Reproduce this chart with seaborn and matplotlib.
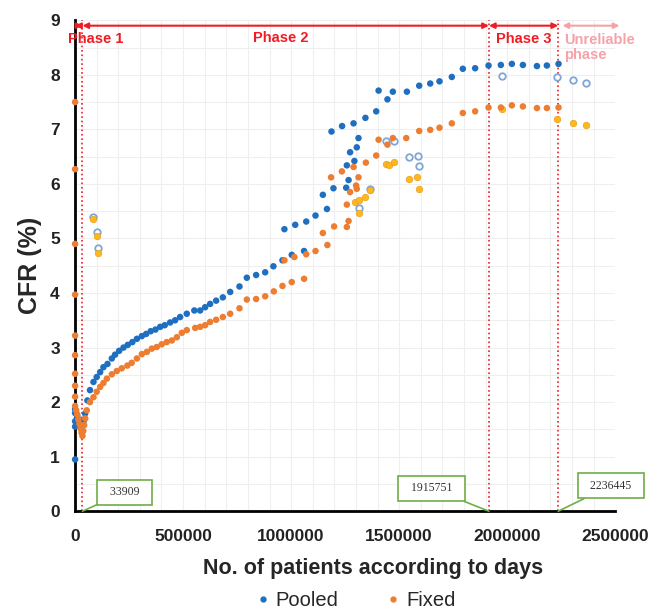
import numpy as np
import pandas as pd
import seaborn as sns
from matplotlib import pyplot as plt
from matplotlib.lines import Line2D
from matplotlib.ticker import MultipleLocator

# values
pooled_x = [0, 0, 0, 0, 0, 5000, 10000, 15000, 20000, 25000, 30000, 35000, 40000,
            46300, 57000, 69000, 85000, 100000, 116000, 131000, 150000, 170000,
            185000, 204000, 224000, 244000, 265000, 286000, 309000, 329000, 350000,
            372000, 394000, 415000, 440000, 463000, 486000, 517000, 552000, 579000,
            602000, 625000, 653000, 684000, 718000, 761000, 795000, 838000, 880000,
            918000, 960000, 1003000, 1060000, 969000, 1019000, 1070000, 1113000,
            1147000, 1166000, 1196000, 1187000, 1236000, 1255000, 1258000, 1266000,
            1273000, 1289000, 1293000, 1304000, 1312000, 1344000, 1394000, 1405000,
            1446000, 1471000, 1536000, 1593000, 1644000, 1687000, 1744000, 1795000,
            1852000, 1914000, 1971000, 2022000, 2073000, 2138000, 2184000, 2238000]
pooled_y = [0.95, 1.55, 1.65, 1.80, 1.87, 1.80, 1.74, 1.68, 1.62, 1.56, 1.50, 1.56, 1.66,
            1.79, 2.03, 2.22, 2.37, 2.46, 2.55, 2.64, 2.70, 2.80,
            2.87, 2.94, 3.00, 3.05, 3.10, 3.16, 3.21, 3.25, 3.30,
            3.33, 3.38, 3.41, 3.46, 3.50, 3.56, 3.62, 3.68, 3.68,
            3.74, 3.80, 3.86, 3.92, 4.02, 4.12, 4.28, 4.33, 4.38,
            4.49, 4.60, 4.70, 4.77, 5.17, 5.25, 5.31, 5.42,
            5.80, 5.54, 5.92, 6.96, 7.06, 5.93, 6.34, 6.07,
            6.58, 7.11, 6.42, 6.67, 6.84, 7.21, 7.33, 7.71,
            7.55, 7.69, 7.69, 7.80, 7.84, 7.88, 7.96, 8.11,
            8.12, 8.17, 8.18, 8.20, 8.18, 8.16, 8.17, 8.20]

fixed_x = [0, 0, 0, 0, 0, 0, 0, 0, 0, 0, 5000, 10000, 15000, 20000, 25000, 30000,
           34000, 38000, 42000, 47000, 54000, 69000, 85000, 100000, 116000, 131000,
           147000, 170000, 193000, 216000, 242000, 262000, 286000, 309000, 332000,
           355000, 378000, 401000, 424000, 448000, 471000, 494000, 517000, 556000,
           579000, 602000, 625000, 653000, 684000, 718000, 761000, 795000, 838000,
           880000, 920000, 960000, 1003000, 1060000, 969000, 1015000, 1070000,
           1113000, 1147000, 1168000, 1185000, 1199000, 1235000, 1258000, 1258000,
           1266000, 1273000, 1289000, 1301000, 1304000, 1312000, 1346000, 1394000,
           1405000, 1446000, 1471000, 1533000, 1593000, 1644000, 1687000, 1744000,
           1795000, 1852000, 1914000, 1971000, 2022000, 2073000, 2138000, 2184000, 2238000]
fixed_y = [7.50, 6.27, 4.90, 3.97, 3.22, 2.86, 2.52, 2.30, 2.10, 1.93, 1.85, 1.77, 1.68,
           1.60, 1.52, 1.44, 1.38, 1.47, 1.58, 1.70, 1.85, 2.00, 2.09, 2.19, 2.28, 2.35,
           2.43, 2.51, 2.57, 2.62, 2.67, 2.72, 2.80, 2.88, 2.92,
           2.98, 3.01, 3.06, 3.10, 3.13, 3.19, 3.27, 3.32, 3.36,
           3.38, 3.41, 3.47, 3.51, 3.56, 3.62, 3.72, 3.88, 3.89,
           3.94, 4.03, 4.13, 4.20, 4.26, 4.60, 4.66, 4.71,
           4.77, 5.10, 4.88, 6.12, 5.22, 6.23, 5.21, 5.62,
           5.32, 5.85, 6.31, 5.97, 5.91, 6.12, 6.39, 6.52,
           6.81, 6.72, 6.84, 6.84, 6.97, 6.99, 7.03, 7.11,
           7.30, 7.33, 7.40, 7.40, 7.44, 7.42, 7.39, 7.39, 7.40]

# hollow (excluded) pooled points and their fixed counterparts
open_x = [82000, 100000, 108000, 1312000, 1366000, 1440000, 1477000, 1548000,
          1587000, 1591000, 1975000, 2230000, 2304000, 2364000]
open_y = [5.40, 5.12, 4.82, 5.55, 5.91, 6.78, 6.78, 6.50, 6.52, 6.32, 7.98, 7.96, 7.90, 7.85]
yellow_x = [82000, 100000, 108000, 1296000, 1312000, 1316000, 1340000, 1366000, 1440000,
            1454000, 1477000, 1548000, 1582000, 1591000, 1975000, 2230000, 2304000, 2364000]
yellow_y = [5.36, 5.05, 4.74, 5.67, 5.46, 5.70, 5.76, 5.89, 6.37, 6.35, 6.41, 6.09, 6.12,
            5.90, 7.37, 7.19, 7.11, 7.08]

phase_bounds = [0, 33909, 1915751, 2236445]
phase_names = ["Phase 1", "Phase 2", "Phase 3"]
unreliable_end = 2520000

sns.set_style("white")
plt.rcParams['font.family'] = ['Liberation Sans', 'DejaVu Sans']

BLUE = '#1f6fc0'
ORANGE = '#ed7d31'
RED = '#f01c24'
PINK = '#f5a3a8'
GREEN = '#70ad47'

frame = pd.concat([
    pd.DataFrame({'x': pooled_x, 'y': pooled_y, 'kind': 'Pooled'}),
    pd.DataFrame({'x': fixed_x, 'y': fixed_y, 'kind': 'Fixed'}),
])

fig = plt.figure(figsize=(6.53, 6.13), dpi=100)
ax = fig.add_axes([0.115, 0.166, 0.827, 0.801])

ax.scatter(open_x, open_y, s=22, facecolor='white', edgecolor='#7fa6d8', lw=1.3, zorder=2)
ax.scatter(yellow_x, yellow_y, s=22, color='#ffb81c', edgecolor='#e8a020', lw=0.5, zorder=2)
sns.scatterplot(data=frame, x='x', y='y', hue='kind', palette={'Pooled': BLUE, 'Fixed': ORANGE},
                s=22, linewidth=0, legend=False, ax=ax, zorder=3, clip_on=False)

ax.set_xlim(0, 2500000)
ax.set_ylim(0, 9)
ax.xaxis.set_major_locator(MultipleLocator(500000))
ax.yaxis.set_major_locator(MultipleLocator(1))
ax.xaxis.set_minor_locator(MultipleLocator(100000))
ax.yaxis.set_minor_locator(MultipleLocator(0.5))
ax.ticklabel_format(axis='x', style='plain', useOffset=False)
ax.grid(which='both', color='#efefef', lw=0.8)
ax.set_axisbelow(True)
sns.despine(ax=ax)
for side in ['left', 'bottom']:
    ax.spines[side].set_linewidth(2)
    ax.spines[side].set_color('black')
    ax.spines[side].set_zorder(2.5)
ax.tick_params(axis='both', which='both', length=0, labelsize=12.5, colors='#222222')
ax.tick_params(axis='x', pad=13)
ax.tick_params(axis='y', pad=11)
for lab in ax.get_xticklabels() + ax.get_yticklabels():
    lab.set_fontweight('bold')

ax.set_xlabel("No. of patients according to days", fontsize=15.5, fontweight='bold')
ax.xaxis.set_label_coords(0.552, -0.095)
ax.set_ylabel("CFR (%)", fontsize=18, fontweight='bold', labelpad=6)

# phase boundaries and arrows
for b in phase_bounds[1:]:
    ax.plot([b, b], [0, 9], color=RED, ls=':', lw=1.2, zorder=1)
arrow_y = 8.9
for (a, b), name in zip(zip(phase_bounds[:-1], phase_bounds[1:]), phase_names):
    ax.annotate('', xy=(b, arrow_y), xytext=(a, arrow_y),
                arrowprops=dict(arrowstyle='<|-|>', color=RED, lw=1.5,
                                shrinkA=0, shrinkB=0, mutation_scale=8))
ax.annotate('', xy=(unreliable_end, arrow_y), xytext=(phase_bounds[-1] + 20000, arrow_y),
            arrowprops=dict(arrowstyle='<|-|>', color=PINK, lw=1.5,
                            shrinkA=0, shrinkB=0, mutation_scale=8), annotation_clip=False)

ax.text(95000, 8.66, "Phase 1", color=RED, fontsize=10.5, fontweight='bold', ha='center', va='center')
ax.text(950000, 8.68, "Phase 2", color=RED, fontsize=10.5, fontweight='bold', ha='center', va='center')
ax.text(2075000, 8.66, "Phase 3", color=RED, fontsize=10.5, fontweight='bold', ha='center', va='center')
ax.text(2265000, 8.5, "Unreliable\nphase", color=PINK, fontsize=10.5, fontweight='bold',
        ha='left', va='center', linespacing=1.15, clip_on=False)

# callouts for the boundary values
callouts = [(33909, 228000, 0.35), (1915751, 1650000, 0.42), (2236445, 2480000, 0.47)]
for xv, tx, ty in callouts:
    ax.annotate(f"  {xv}  ", xy=(xv, 0), xytext=(tx, ty), fontsize=8.5, family='Liberation Serif',
                color='#333333', ha='center', va='center', annotation_clip=False,
                bbox=dict(boxstyle='square,pad=0.55', fc='white', ec=GREEN, lw=1.2),
                arrowprops=dict(arrowstyle='-', color=GREEN, lw=1.2, shrinkA=0, shrinkB=0))

handles = [Line2D([], [], marker='o', ls='', color=BLUE, markersize=3.5, label='Pooled'),
           Line2D([], [], marker='o', ls='', color=ORANGE, markersize=3.5, label='Fixed')]
fig.legend(handles=handles, loc='center', bbox_to_anchor=(0.545, 0.02), ncol=2, frameon=False,
           fontsize=14.5, handlelength=0.6, handletextpad=0.35, columnspacing=2.4)

plt.savefig('out.png', dpi=100)
